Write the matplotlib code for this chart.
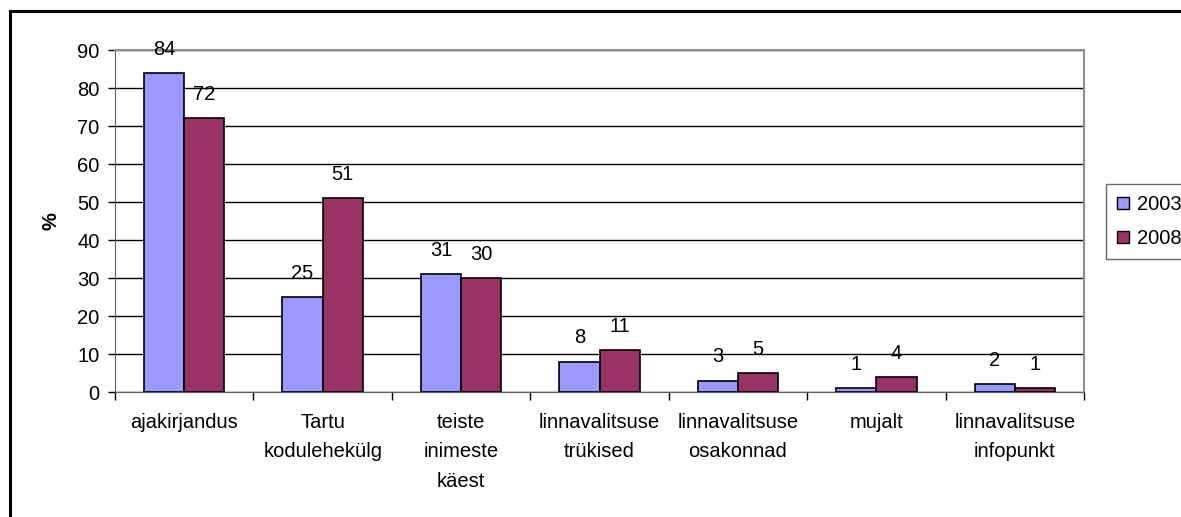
import matplotlib
matplotlib.use("Agg")
import matplotlib.pyplot as plt
from matplotlib.patches import Patch, Rectangle
import numpy as np

plt.rcParams['font.family'] = ['Liberation Sans', 'DejaVu Sans']

categories = ['ajakirjandus', 'Tartu\nkodulehekülg', 'teiste\ninimeste\nkäest',
              'linnavalitsuse\ntrükised', 'linnavalitsuse\nosakonnad', 'mujalt',
              'linnavalitsuse\ninfopunkt']
years = ['2003', '2008']
values_2003 = [84, 25, 31, 8, 3, 1, 2]
values_2008 = [72, 51, 30, 11, 5, 4, 1]
colors = ['#9999FF', '#993366']
yticks = list(range(0, 100, 10))

FS = 14.5
W, H = 1181, 517
fig = plt.figure(figsize=(W / 100, H / 100), dpi=100)
ax = fig.add_axes([115 / W, 1 - 392 / H, (1084 - 115) / W, (392 - 50) / H])

x = np.arange(len(categories))
bw = 0.29
for i, (vals, c) in enumerate(zip([values_2003, values_2008], colors)):
    pos = x + (i - 0.5) * bw
    ax.bar(pos, vals, width=bw, color=c, edgecolor='black', linewidth=1.2, zorder=3)
    for px, v in zip(pos, vals):
        ax.annotate(str(v), (px, v), xytext=(0, 17), textcoords='offset points',
                    ha='center', va='center', fontsize=FS)

ax.set_xlim(-0.5, len(categories) - 0.5)
ax.set_ylim(0, 90)
ax.set_yticks(yticks)
ax.tick_params(axis='y', labelsize=FS, length=5, width=1, direction='out', pad=6)
ax.set_xticks(x)
ax.set_xticklabels(categories, fontsize=FS, linespacing=1.7, va='top')
ax.tick_params(axis='x', which='major', length=0, pad=15)
ax.set_xticks(np.arange(len(categories) + 1) - 0.5, minor=True)
ax.tick_params(axis='x', which='minor', length=6, width=1, direction='out')

ax.yaxis.grid(True, color='black', linewidth=1, zorder=0)
ax.set_axisbelow(True)
for side in ['top', 'right']:
    ax.spines[side].set_color('#909090')
    ax.spines[side].set_linewidth(1.5)
ax.spines['left'].set_color('#606060')
ax.spines['bottom'].set_color('#606060')

ax.set_ylabel('%', fontsize=FS, fontweight='bold', labelpad=12)

handles = [Patch(facecolor=c, edgecolor='black', linewidth=1) for c in colors]
fig.legend(handles, years, loc='upper left', bbox_to_anchor=(1106 / W, 1 - 184 / H),
           fontsize=FS, frameon=True, fancybox=False, edgecolor='#404040',
           handlelength=0.6, handleheight=0.6, handletextpad=0.4,
           labelspacing=0.75, borderpad=0.55, borderaxespad=0)

# outer chart frame, cut off on the right and bottom
fig.add_artist(Rectangle((10 / W, -0.1), 1.2, 1.1 - 11 / H, transform=fig.transFigure,
                         fill=False, edgecolor='black', linewidth=2.2, clip_on=False))

fig.savefig('out.png', dpi=100)
